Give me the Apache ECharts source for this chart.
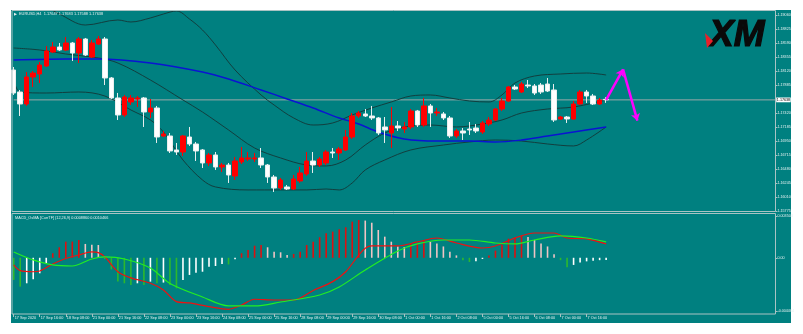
<!DOCTYPE html>
<html><head><meta charset="utf-8">
<script src="https://cdn.jsdelivr.net/npm/echarts@6/dist/echarts.min.js"></script>
<style>html,body{margin:0;padding:0;background:#fff;}#c{width:803px;height:334px;}</style>
</head><body><div id="c"></div>
<script>
// ---------- data ----------
const tickLabels = ['17 Sep 2020','17 Sep 16:00','18 Sep 08:00','21 Sep 00:00','21 Sep 16:00','22 Sep 08:00','23 Sep 00:00','23 Sep 16:00','24 Sep 08:00','25 Sep 00:00','25 Sep 16:00','28 Sep 08:00','29 Sep 00:00','29 Sep 16:00','30 Sep 08:00','1 Oct 00:00','1 Oct 16:00','2 Oct 08:00','5 Oct 00:00','5 Oct 16:00','6 Oct 08:00','7 Oct 00:00','7 Oct 16:00'];
const priceTicks = [1.19060,1.18825,1.18590,1.18355,1.18120,1.17885,1.17420,1.17185,1.16950,1.16715,1.16480,1.16245,1.16010,1.15775];
const macdTicks = [0.003504, 0, -0.004464];
const lastPrice = 1.17638;

const opens  = [1.18139,1.17770,1.17569,1.18021,1.18072,1.18206,1.18440,1.18524,1.18474,1.18591,1.18423,1.18658,1.18356,1.18574,1.18658,1.18005,1.17670,1.17385,1.17603,1.17653,1.17670,1.17435,1.17502,1.17033,1.17033,1.16799,1.16765,1.17016,1.16899,1.16799,1.16581,1.16715,1.16514,1.16547,1.16363,1.16598,1.16648,1.16648,1.16665,1.16547,1.16346,1.16162,1.16179,1.16145,1.16279,1.16397,1.16614,1.16547,1.16581,1.16765,1.16748,1.16799,1.17016,1.17368,1.17402,1.17368,1.17335,1.17184,1.17083,1.17201,1.17150,1.17184,1.17452,1.17217,1.17536,1.17418,1.17402,1.17335,1.17033,1.17117,1.17150,1.17167,1.17100,1.17234,1.17301,1.17485,1.17619,1.17854,1.17770,1.17887,1.17871,1.17887,1.17904,1.17804,1.17318,1.17351,1.17318,1.17569,1.17770,1.17703,1.17569,1.17647];
const closes = [1.17753,1.17569,1.18021,1.18088,1.18222,1.18457,1.18524,1.18474,1.18591,1.18423,1.18658,1.18390,1.18591,1.18658,1.18005,1.17670,1.17385,1.17686,1.17670,1.17670,1.17435,1.17502,1.17016,1.17067,1.16782,1.16765,1.17033,1.16899,1.16782,1.16581,1.16715,1.16514,1.16547,1.16380,1.16614,1.16665,1.16665,1.16665,1.16547,1.16346,1.16162,1.16296,1.16145,1.16313,1.16413,1.16614,1.16547,1.16648,1.16765,1.16748,1.16815,1.17016,1.17368,1.17418,1.17368,1.17335,1.17083,1.17134,1.17201,1.17167,1.17184,1.17452,1.17217,1.17536,1.17418,1.17435,1.17335,1.17033,1.17117,1.17083,1.17134,1.17117,1.17251,1.17301,1.17485,1.17619,1.17854,1.17820,1.17904,1.17871,1.17753,1.17770,1.17787,1.17301,1.17351,1.17318,1.17569,1.17770,1.17703,1.17569,1.17636,1.17638];
const lows   = [1.17720,1.17368,1.17536,1.17854,1.17921,1.18189,1.18423,1.18457,1.18457,1.18289,1.18256,1.18373,1.18340,1.18557,1.17887,1.17653,1.17301,1.17351,1.17552,1.17519,1.17184,1.17335,1.16916,1.17016,1.16748,1.16715,1.16698,1.16866,1.16614,1.16497,1.16531,1.16464,1.16430,1.16246,1.16296,1.16564,1.16614,1.16598,1.16497,1.16246,1.16095,1.16129,1.16129,1.16129,1.16246,1.16363,1.16413,1.16514,1.16547,1.16665,1.16631,1.16782,1.16983,1.17335,1.17351,1.17301,1.17050,1.16916,1.16832,1.17117,1.17083,1.17150,1.17184,1.17184,1.17184,1.17368,1.17301,1.17000,1.17000,1.16966,1.17050,1.17083,1.17067,1.17201,1.17284,1.17452,1.17603,1.17804,1.17753,1.17837,1.17720,1.17737,1.17770,1.17268,1.17301,1.17251,1.17301,1.17552,1.17586,1.17552,1.17552,1.17588];
const highs  = [1.18189,1.17804,1.18105,1.18122,1.18273,1.18541,1.18608,1.18591,1.18691,1.18608,1.18691,1.18675,1.18641,1.18708,1.18691,1.18021,1.17754,1.17720,1.17720,1.17703,1.17686,1.17653,1.17536,1.17117,1.17083,1.16916,1.17050,1.17184,1.16933,1.16815,1.16748,1.16765,1.16581,1.16581,1.16681,1.16849,1.16765,1.16748,1.16832,1.16564,1.16380,1.16330,1.16212,1.16380,1.16514,1.16765,1.16765,1.16681,1.16799,1.16832,1.16849,1.17134,1.17418,1.17452,1.17485,1.17536,1.17351,1.17351,1.17519,1.17284,1.17268,1.17485,1.17469,1.17670,1.17569,1.17502,1.17435,1.17368,1.17150,1.17167,1.17268,1.17234,1.17284,1.17351,1.17502,1.17670,1.17871,1.17887,1.17938,1.17971,1.17904,1.17921,1.18005,1.17904,1.17368,1.17368,1.17619,1.17804,1.17804,1.17737,1.17670,1.17683];

// Bollinger bands and moving average: [bar, price]
const bbUpper = [[0,1.19227],[5,1.19177],[7,1.19077],[11,1.18892],[16,1.18976],[18,1.18943],[21,1.19010],[23,1.19077],[25,1.19127],[27,1.18993],[29,1.18809],[31,1.18557],[34,1.18139],[38,1.17720],[40,1.17552],[43,1.17335],[46,1.17217],[49,1.17251],[52,1.17385],[55,1.17502],[58,1.17603],[61,1.17703],[64,1.17720],[67,1.17670],[70,1.17619],[73,1.17603],[75,1.17720],[77,1.17921],[80,1.18038],[84,1.18072],[88,1.18088],[91,1.18055]];
const bbMiddle = [[0,1.18507],[4,1.18474],[8,1.18407],[13,1.18340],[16,1.18256],[21,1.17971],[26,1.17636],[29,1.17435],[33,1.17134],[37,1.16832],[41,1.16665],[45,1.16547],[48,1.16531],[51,1.16631],[54,1.16882],[57,1.17083],[60,1.17184],[64,1.17217],[68,1.17184],[72,1.17234],[75,1.17301],[78,1.17418],[82,1.17485],[86,1.17519],[91,1.17636]];
const bbLower = [[0,1.17971],[1,1.17770],[5,1.17753],[10,1.17770],[14,1.17703],[18,1.17469],[21,1.17301],[23,1.17100],[26,1.16631],[29,1.16296],[31,1.16179],[36,1.16129],[41,1.16129],[45,1.16129],[48,1.16145],[50,1.16129],[52,1.16246],[54,1.16464],[57,1.16631],[61,1.16799],[66,1.16882],[70,1.16933],[74,1.16966],[78,1.16949],[82,1.16899],[86,1.16866],[88,1.16966],[91,1.17184]];
const maBlue = [[0,1.18306],[8,1.18323],[13,1.18323],[21,1.18256],[29,1.18105],[33,1.17988],[38,1.17804],[42,1.17653],[46,1.17502],[50,1.17335],[53,1.17234],[56,1.17100],[60,1.16983],[65,1.16949],[70,1.16949],[74,1.16933],[78,1.16966],[82,1.17033],[86,1.17100],[91,1.17184]];

// forecast arrows: [bar, price]
const arrowPath = [[91,1.17638],[93.6,1.18150],[95.8,1.17290]];

// MACD panel
const histogram = [-0.00186,-0.00242,-0.00214,-0.00180,-0.00130,-0.00046,0.00038,0.00088,0.00135,0.00136,0.00149,0.00116,0.00110,0.00107,-0.00010,-0.00097,-0.00200,-0.00214,-0.00228,-0.00214,-0.00228,-0.00200,-0.00214,-0.00208,-0.00228,-0.00256,-0.00186,-0.00144,-0.00125,-0.00117,-0.00075,-0.00069,-0.00052,-0.00056,-0.00013,0.00038,0.00065,0.00101,0.00107,0.00088,0.00051,0.00046,0.00023,0.00032,0.00051,0.00107,0.00135,0.00172,0.00205,0.00219,0.00239,0.00256,0.00303,0.00317,0.00312,0.00294,0.00233,0.00177,0.00135,0.00095,0.00090,0.00115,0.00120,0.00140,0.00135,0.00120,0.00095,0.00050,0.00020,-0.00020,-0.00035,-0.00030,-0.00010,0.00020,0.00060,0.00110,0.00160,0.00170,0.00185,0.00175,0.00150,0.00120,0.00095,0.00030,-0.00020,-0.00080,-0.00060,-0.00040,-0.00030,-0.00025,-0.00020,-0.00018];
const macdMain = [[0,-0.00060],[1,-0.00108],[3,-0.00117],[4,-0.00111],[6,-0.00052],[8,-0.00006],[10,0.00023],[12,0.00049],[13,0.00043],[14,0.00007],[16,-0.00117],[18,-0.00169],[21,-0.00214],[23,-0.00270],[25,-0.00368],[27,-0.00379],[30,-0.00410],[33,-0.00432],[35,-0.00396],[37,-0.00348],[40,-0.00354],[43,-0.00354],[46,-0.00274],[49,-0.00200],[51,-0.00117],[53,0.00023],[54,0.00080],[55,0.00099],[59,0.00099],[62,0.00133],[65,0.00166],[68,0.00124],[72,0.00082],[74,0.00099],[77,0.00166],[80,0.00208],[83,0.00208],[85,0.00166],[88,0.00158],[91,0.00116]];
const macdSignal = [[0,0.00049],[3,-0.00018],[6,-0.00060],[9,-0.00069],[12,-0.00010],[14,0.00007],[17,-0.00010],[21,-0.00086],[24,-0.00215],[29,-0.00329],[33,-0.00404],[37,-0.00404],[41,-0.00371],[47,-0.00312],[50,-0.00245],[54,-0.00102],[59,0.00057],[62,0.00116],[66,0.00149],[70,0.00149],[74,0.00124],[77,0.00116],[80,0.00149],[84,0.00183],[88,0.00166],[91,0.00133]];

// ---------- chart ----------
const NCAT = 118;
const categories = Array.from({length: NCAT}, (_, i) => String(i));
const candles = opens.map((o, i) => [o, closes[i], lows[i], highs[i]]);
const FONT = 'Liberation Sans';
const TXT = '#e4f0f0';
const FRAME = '#a9c3c3';

const chart = echarts.init(document.getElementById('c'), null, {renderer: 'canvas'});
const gridL = 13.7, gridW = 761.7;
chart.setOption({
  animation: false,
  backgroundColor: '#ffffff',
  grid: [
    {left: gridL, top: 11, width: gridW, height: 200.5, containLabel: false, outerBoundsMode: 'none'},
    {left: gridL, top: 216, width: gridW, height: 95, containLabel: false, outerBoundsMode: 'none'}
  ],
  xAxis: [
    {type: 'category', gridIndex: 0, data: categories, boundaryGap: false,
      axisLine: {show: false, onZero: false}, axisTick: {show: false}, axisLabel: {show: false}, splitLine: {show: false}},
    {type: 'value', gridIndex: 0, min: 0, max: NCAT - 1, show: false, axisLine: {onZero: false}},
    {type: 'category', gridIndex: 1, data: categories, boundaryGap: false, offset: 3,
      axisLine: {show: false, onZero: false},
      axisTick: {show: true, length: 3, lineStyle: {color: FRAME, width: 1},
        interval: (i) => i % 4 === 0 && i / 4 < tickLabels.length},
      axisLabel: {show: true, color: TXT, fontSize: 3.8, fontFamily: FONT, margin: 1.5, align: 'left',
        padding: [0, 0, 0, 1],
        interval: (i) => i % 4 === 0 && i / 4 < tickLabels.length,
        formatter: (v, i) => tickLabels[Math.round(Number(v) / 4)] || ''},
      splitLine: {show: false}},
    {type: 'value', gridIndex: 1, min: 0, max: NCAT - 1, show: false, axisLine: {onZero: false}}
  ],
  yAxis: [
    {type: 'value', gridIndex: 0, position: 'right', min: 1.15768, max: 1.19127,
      splitLine: {show: false}, axisLine: {show: false, onZero: false},
      axisTick: {show: true, length: 2, customValues: priceTicks, lineStyle: {color: FRAME}},
      axisLabel: {show: true, customValues: priceTicks, color: TXT, fontSize: 3.7, fontFamily: FONT, margin: 2,
        formatter: (v) => Number(v).toFixed(5)}},
    {type: 'value', gridIndex: 1, position: 'right', min: -0.004464, max: 0.003504,
      splitLine: {show: false}, axisLine: {show: false, onZero: false},
      axisTick: {show: true, length: 2, customValues: macdTicks, lineStyle: {color: FRAME}},
      axisLabel: {show: true, customValues: macdTicks, color: TXT, fontSize: 3.7, fontFamily: FONT, margin: 2,
        formatter: (v) => (Math.abs(v) < 1e-9 ? '0.00' : Number(v).toFixed(6))}}
  ],
  series: [
    {type: 'line', name: 'bbUpper', xAxisIndex: 1, yAxisIndex: 0, data: bbUpper, smooth: 0.35, symbol: 'none',
      lineStyle: {color: '#123e3e', width: 1}, clip: true, z: 2},
    {type: 'line', name: 'bbMiddle', xAxisIndex: 1, yAxisIndex: 0, data: bbMiddle, smooth: 0.35, symbol: 'none',
      lineStyle: {color: '#123e3e', width: 1}, clip: true, z: 2},
    {type: 'line', name: 'bbLower', xAxisIndex: 1, yAxisIndex: 0, data: bbLower, smooth: 0.35, symbol: 'none',
      lineStyle: {color: '#123e3e', width: 1}, clip: true, z: 2},
    {type: 'line', name: 'ma', xAxisIndex: 1, yAxisIndex: 0, data: maBlue, smooth: 0.35, symbol: 'none',
      lineStyle: {color: '#0a14d2', width: 1.4}, clip: true, z: 2},
    {type: 'line', name: 'lastPrice', xAxisIndex: 1, yAxisIndex: 0, data: [[0, lastPrice], [NCAT - 1, lastPrice]],
      symbol: 'none', lineStyle: {color: '#9aa8a8', width: 1}, z: 1, silent: true,
      endLabel: {show: true, formatter: lastPrice.toFixed(5), color: '#000', backgroundColor: '#ffffff',
        fontSize: 3.7, fontFamily: FONT, padding: [0.4, 0.6], distance: 0.8}},
    {type: 'candlestick', name: 'EURUSD', xAxisIndex: 0, yAxisIndex: 0, data: candles, barWidth: 5, clip: false, z: 3,
      itemStyle: {color: '#ff0000', color0: '#ffffff', borderColor: '#ff0000', borderColor0: '#e8eeee', borderWidth: 1}},
    {type: 'lines', coordinateSystem: 'cartesian2d', xAxisIndex: 1, yAxisIndex: 0, z: 6,
      symbol: ['none', 'arrow'], symbolSize: 7,
      lineStyle: {color: '#ff00ff', width: 2.5, opacity: 1, curveness: 0},
      data: [{coords: [arrowPath[0], arrowPath[1]]}, {coords: [arrowPath[1], arrowPath[2]]}]},
    {type: 'bar', name: 'osma', xAxisIndex: 2, yAxisIndex: 1, data: histogram, barWidth: 1.6, z: 2,
      itemStyle: {color: (p) => {
        const v = histogram[p.dataIndex];
        const prev = p.dataIndex > 0 ? histogram[p.dataIndex - 1] : (v > 0 ? -Infinity : Infinity);
        if (v >= 0) return v >= prev ? '#dd1010' : '#f0c4c4';
        return v < prev ? '#2cb82c' : '#ffffff';
      }}},
    {type: 'line', name: 'macd', xAxisIndex: 3, yAxisIndex: 1, data: macdMain, smooth: 0.3, symbol: 'none',
      lineStyle: {color: '#ee1111', width: 1.2}, z: 4},
    {type: 'line', name: 'signal', xAxisIndex: 3, yAxisIndex: 1, data: macdSignal, smooth: 0.3, symbol: 'none',
      lineStyle: {color: '#22ee22', width: 1.2}, z: 4}
  ],
  graphic: [
    {type: 'rect', z: -100, silent: true, shape: {x: 11, y: 10, width: 780, height: 313}, style: {fill: '#008080'}},
    {type: 'rect', z: 100, silent: true, shape: {x: 12, y: 10.5, width: 763.5, height: 201}, style: {fill: 'none', stroke: FRAME, lineWidth: 1}},
    {type: 'rect', z: 100, silent: true, shape: {x: 12, y: 213.5, width: 763.5, height: 100.5}, style: {fill: 'none', stroke: FRAME, lineWidth: 1}},
    {type: 'text', z: 100, silent: true, x: 19, y: 14.3,
      style: {text: 'EURUSD,H4  1.17647 1.17683 1.17588 1.17638', fill: TXT, font: '3.9px "Liberation Sans"', verticalAlign: 'middle'}},
    {type: 'polygon', z: 100, silent: true, shape: {points: [[14, 12.8], [17, 14.3], [14, 15.8]]}, style: {fill: '#e4f0f0'}},
    {type: 'text', z: 100, silent: true, x: 15, y: 217.8,
      style: {text: 'MACD_OsMA [CurrTF] (12,26,9) 0.0008860 0.0010466', fill: TXT, font: '3.8px "Liberation Sans"', verticalAlign: 'middle'}},
    {type: 'text', z: 100, silent: true, x: 709, y: 36,
      style: {text: 'XM', fill: '#0a0a0a', font: 'italic bold 37px "Liberation Sans"', verticalAlign: 'middle', stroke: '#0a0a0a', lineWidth: 1.2}},
    {type: 'polygon', z: 101, silent: true, shape: {points: [[705, 33], [713, 41], [707, 48]]}, style: {fill: '#e8202a'}}
  ]
});
</script></body></html>
